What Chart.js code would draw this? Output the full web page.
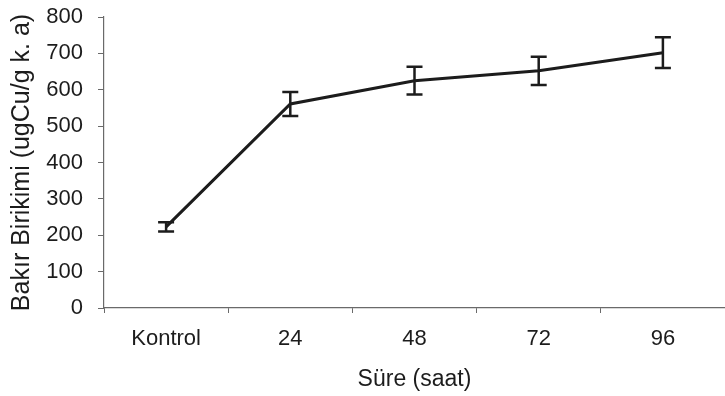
<!DOCTYPE html>
<html>
<head>
<meta charset="utf-8">
<script src="https://cdn.jsdelivr.net/npm/chart.js@4/dist/chart.umd.min.js"></script>
<style>
	html, body { margin:0; padding:0; background:#fff; overflow:hidden; }
	#wrap { width:725px; height:396px; }
</style>
</head>
<body>
<div id="wrap"><canvas id="grafica" width="725" height="396"></canvas></div>
<script>
// categorias del eje x (horas)
var etiquetas = ['Kontrol', '24', '48', '72', '96'];
// bakir birikimi promedio
var valores = [223, 561, 625, 652, 702];
// error (+/-) de cada punto
var errores = [13, 33, 38, 39, 42];
var ticksY = [0, 100, 200, 300, 400, 500, 600, 700, 800];

var tinta = '#1c1c1c';
var ejes = '#6a6a6a';
var fuente = 'Liberation Sans, Arial, sans-serif';

// dibuja las barras de error con la escala y
var barrasError = {
	id: 'barrasError',
	afterDatasetsDraw: function(chart){
		var ctx = chart.ctx;
		var meta = chart.getDatasetMeta(0);
		var y = chart.scales.y;
		ctx.save();
		ctx.strokeStyle = tinta;
		ctx.lineWidth = 2.5;
		for (var i = 0; i < valores.length; i++) {
			var px = meta.data[i].x;
			var arriba = y.getPixelForValue(valores[i] + errores[i]);
			var abajo = y.getPixelForValue(valores[i] - errores[i]);
			ctx.beginPath();
			ctx.moveTo(px, arriba); ctx.lineTo(px, abajo);
			ctx.moveTo(px - 8, arriba); ctx.lineTo(px + 8, arriba);
			ctx.moveTo(px - 8, abajo); ctx.lineTo(px + 8, abajo);
			ctx.stroke();
		}
		ctx.restore();
	}
};

window.onload = function(){
	var ctx = document.getElementById('grafica').getContext('2d');
	var miGrafica = new Chart(ctx, {
		type: 'line',
		data: {
			labels: etiquetas,
			datasets: [{
				data: valores,
				borderColor: tinta,
				borderWidth: 3,
				pointRadius: 0,
				tension: 0,
				fill: false
			}]
		},
		options: {
			responsive: false,
			animation: false,
			layout: { padding: { top: 17, right: 0, left: 0, bottom: 0 } },
			plugins: { legend: { display: false }, tooltip: { enabled: false } },
			scales: {
				x: {
					offset: true,
					grid: { offset: true, drawOnChartArea: false, drawTicks: true, tickLength: 5, color: ejes, lineWidth: 1 },
					border: { color: ejes, width: 1.2 },
					ticks: { color: tinta, padding: 13, font: { family: fuente, size: 22 } },
					title: { display: true, text: 'Süre (saat)', color: tinta, padding: { top: 0, bottom: 3 }, font: { family: fuente, size: 23 } },
					afterFit: function(scale){ scale.height = 88; }
				},
				y: {
					min: 0,
					max: 800,
					afterBuildTicks: function(scale){
						scale.ticks = ticksY.map(function(v){ return { value: v }; });
					},
					grid: { drawOnChartArea: false, drawTicks: true, tickLength: 6, color: ejes, lineWidth: 1 },
					border: { color: ejes, width: 1.2 },
					// lineHeight chico para que el 800 no empuje el area hacia abajo
					ticks: { color: tinta, padding: 15, font: { family: fuente, size: 22, lineHeight: 0.1 } },
					title: { display: true, text: 'Bakır Birikimi (ugCu/g k. a)', color: tinta, padding: { top: 7, bottom: 0 }, font: { family: fuente, size: 25 } },
					afterFit: function(scale){ scale.width = 104; }
				}
			}
		},
		plugins: [barrasError]
	});
};
</script>
</body>
</html>
